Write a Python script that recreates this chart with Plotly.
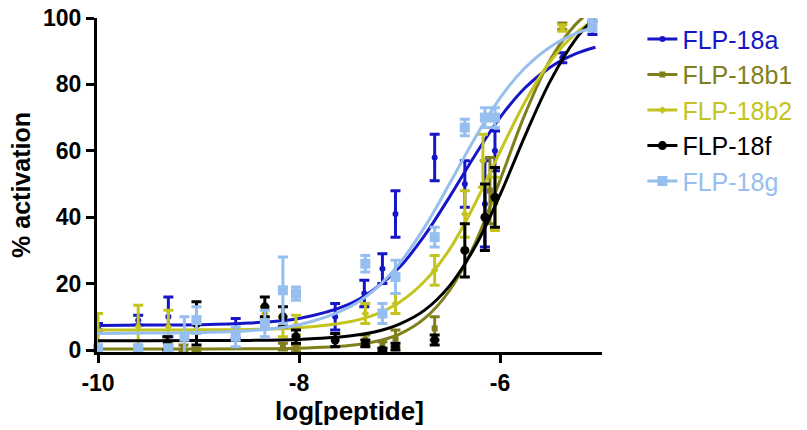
import plotly.graph_objects as go

# ---- data ----
names = ["FLP-18a", "FLP-18b1", "FLP-18b2", "FLP-18f", "FLP-18g"]
colors = ["#1616C8", "#7F7F1C", "#C4C41E", "#000000", "#96BEEE"]
symbols = ["circle", "square", "diamond", "circle", "square"]
msizes = [6, 6, 6, 9, 10]

a_x = [-10, -9.6, -9.3, -8.63, -7.64, -7.35, -7.17, -7.04, -6.65, -6.35, -6.15, -6.05, -5.38, -5.08]
a_y = [7, 9, 10, 6.5, 10, 17, 24.5, 41, 58, 50, 44, 60, 88, 97]
a_e = [1, 1.5, 6, 3, 4, 4, 4.5, 7, 7, 7, 13, 6, 1.5, 2]

b1_x = [-10, -9.15, -9.02, -8.16, -8.03, -7.34, -7.17, -7.04, -6.65, -6.1, -5.38]
b1_y = [0.3, 0.5, 0, 1, 0.5, 3, 1.5, 3.5, 6.5, 48, 97.5]
b1_e = [0.5, 1, 0.5, 1, 1, 1.5, 1, 2.5, 3.5, 10, 1]

b2_x = [-10, -9.6, -9.3, -8.34, -8.16, -8.03, -7.34, -7.04, -6.65, -6.35, -6.17, -6.05, -5.38]
b2_y = [5, 7, 7, 11, 7, 7.5, 11, 14, 24, 41, 57, 44, 97]
b2_e = [6, 6.5, 5, 2, 3, 3, 3, 3, 4.5, 7, 8, 8, 1]

f_x = [-9.31, -9.02, -8.34, -8.16, -8.03, -7.64, -7.34, -7.17, -7.04, -6.65, -6.35, -6.15, -6.05]
f_y = [2, 8, 13, 10, 4, 3, 2, 0, 1, 3, 30, 40, 46]
f_e = [2, 6.5, 3, 3, 2, 2, 1, 0.5, 1, 1.5, 8, 10, 9]

g_x = [-10, -9.6, -9.3, -9.14, -9.02, -8.63, -8.34, -8.16, -8.03, -7.34, -7.17, -7.04, -6.65, -6.35, -6.15, -6.05, -5.08]
g_y = [0.5, 0.5, 0.5, 4, 9, 4, 8, 18, 17, 26, 11, 22, 34, 67, 70, 70, 98]
g_e = [1, 1, 1, 6, 4, 3, 4, 10, 2, 2.5, 3, 5, 3, 2.5, 3, 3, 2]

# fitted curves
curve_x = [-10, -9.5, -9, -8.5, -8, -7.5, -7.25, -7, -6.75, -6.5, -6.25, -6, -5.75, -5.5, -5.25, -5.05]
a_fit = [7.4, 7.5, 7.6, 8.1, 9.5, 13.8, 18.3, 24.9, 34.5, 46.2, 58.6, 70.0, 79.0, 85.2, 89.2, 91.2]
b1_fit = [0.3, 0.3, 0.3, 0.35, 0.54, 1.35, 2.5, 4.8, 9.5, 18.0, 32.0, 51.1, 71.1, 87.4, 98.0, 103.1]
b2_fit = [6.0, 6.0, 6.1, 6.2, 6.7, 8.5, 10.6, 14.4, 20.7, 30.4, 44.0, 59.7, 74.8, 86.9, 95.3, 99.5]
f_fit = [2.8, 2.8, 2.83, 2.9, 3.2, 4.2, 5.4, 7.8, 12.0, 19.4, 31.0, 46.7, 64.6, 81.0, 93.5, 100.3]
g_fit = [5.0, 5.1, 5.3, 5.8, 7.6, 12.9, 18.1, 26.1, 37.0, 50.2, 63.8, 75.9, 85.0, 91.3, 95.3, 97.3]

x_ticks = [-10, -8, -6]
x_tick_text = ["-10", "-8", "-6"]
y_ticks = [0, 20, 40, 60, 80, 100]

series = [
    (a_x, a_y, a_e, a_fit),
    (b1_x, b1_y, b1_e, b1_fit),
    (b2_x, b2_y, b2_e, b2_fit),
    (f_x, f_y, f_e, f_fit),
    (g_x, g_y, g_e, g_fit),
]

fig = go.Figure()
font_fam = "Liberation Sans, Arial, sans-serif"

for i, (sx, sy, se, sfit) in enumerate(series):
    c = colors[i]
    fig.add_trace(go.Scatter(
        x=curve_x, y=sfit, mode="lines", line=dict(color=c, width=3, shape="spline"),
        showlegend=False, hoverinfo="skip"))
    fig.add_trace(go.Scatter(
        x=sx, y=sy, mode="markers", showlegend=False, cliponaxis=False,
        marker=dict(color=c, symbol=symbols[i], size=msizes[i]),
        error_y=dict(type="data", array=se, color=c, thickness=3, width=5)))

for i in range(len(names)):
    c = colors[i]
    fig.add_trace(go.Scatter(
        x=[None], y=[None], mode="lines+markers",
        name=f"<span style='color:{c}'>{names[i]}</span>",
        line=dict(color=c, width=3),
        marker=dict(color=c, symbol=symbols[i], size=msizes[i])))

axis_common = dict(
    showline=True, linecolor="black", linewidth=3, ticks="outside", ticklen=8,
    tickwidth=3, tickcolor="black", showgrid=False, zeroline=False, automargin=False,
    tickfont=dict(family=font_fam, size=23, color="black", weight="bold"),
)

fig.update_layout(
    width=807, height=430,
    margin=dict(l=97, r=205, t=18, b=78, autoexpand=False),
    plot_bgcolor="white", paper_bgcolor="white",
    xaxis=dict(range=[-10.01, -4.985], tickvals=x_ticks, ticktext=x_tick_text,
               title=dict(text="log[peptide]", standoff=6,
                          font=dict(family=font_fam, size=26, color="black", weight="bold")),
               **axis_common),
    yaxis=dict(range=[-0.6, 100], tickvals=y_ticks,
               title=dict(text="% activation", standoff=6,
                          font=dict(family=font_fam, size=25, color="black", weight="bold")),
               **axis_common),
    legend=dict(x=1.08, y=1.005, xanchor="left", yanchor="top",
                font=dict(family=font_fam, size=25), tracegroupgap=0,
                bgcolor="rgba(0,0,0,0)"),
)

fig.write_html("out.html")
